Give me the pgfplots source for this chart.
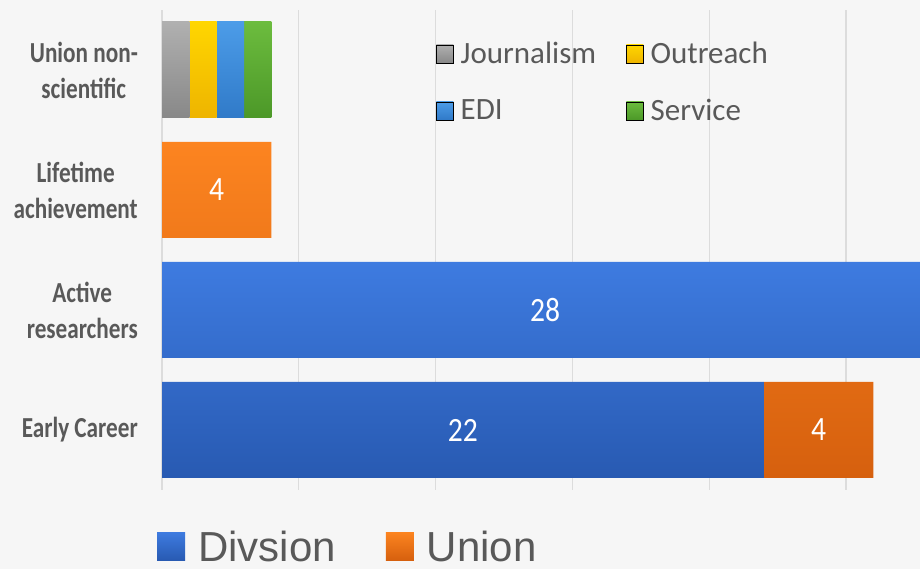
\documentclass[border=0pt]{standalone}
\usepackage{pgfplots}
\pgfplotsset{compat=1.18}
\usepackage{fontspec}
\setmainfont{Carlito}
\newfontfamily\tickfont{Carlito}[FakeStretch=0.8]
\newfontfamily\numfont{Carlito}[FakeStretch=0.87]
\newfontfamily\legfont{Liberation Sans}
\definecolor{bgc}{HTML}{F6F6F6}
\definecolor{txt}{HTML}{595959}
\definecolor{gridc}{HTML}{DCDCDC}
\definecolor{divT}{RGB}{62,123,224}
\definecolor{divB}{RGB}{40,90,178}
\definecolor{uniT}{RGB}{252,132,32}
\definecolor{uniB}{RGB}{214,96,14}
\definecolor{jouT}{RGB}{176,176,176}
\definecolor{jouB}{RGB}{136,136,136}
\definecolor{outT}{RGB}{255,214,0}
\definecolor{outB}{RGB}{238,180,0}
\definecolor{ediT}{RGB}{76,156,232}
\definecolor{ediB}{RGB}{48,122,200}
\definecolor{serT}{RGB}{108,188,62}
\definecolor{serB}{RGB}{76,152,40}
\begin{document}
\begin{tikzpicture}
\fill[bgc] (0,0) rectangle (920pt,569pt);
\begin{axis}[
  at={(162pt,79pt)}, anchor=south west,
  scale only axis, width=766pt, height=480pt,
  xbar stacked, bar width=96pt,
  xmin=0, xmax=28, ymin=-0.5, ymax=3.5,
  axis line style={draw=none},
  xtick={0,5,10,15,20,25}, xticklabels={},
  xmajorgrids, grid style={gridc, line width=1.2pt},
  major tick length=0pt,
  ytick={0,1,2,3},
  yticklabels={Early Career,{Active\\researchers},{Lifetime\\achievement},{Union non-\\scientific}},
  yticklabel style={align=center, text=txt, inner sep=0pt, xshift=-24pt,
    font=\tickfont\bfseries\fontsize{29}{36}\selectfont},
  legend image code/.code={\fill[#1] (0pt,-14pt) rectangle (28pt,14pt);},
  legend columns=2,
  legend style={draw=none, fill=none, at={(-0.0066,-0.085)}, anchor=north west,
    inner sep=0pt, text=txt, font=\legfont\fontsize{42}{42}\selectfont,
    nodes={inner sep=0pt, anchor=west, text depth=0pt},
    /tikz/every odd column/.append style={column sep=13pt},
    /tikz/column 2/.style={column sep=50pt}},
  clip=true,
]
\addplot[draw=none, top color=divT, bottom color=divB,
  nodes near coords, point meta=explicit symbolic,
  every node near coord/.style={anchor=center, text=white, font=\numfont\fontsize{34}{34}\selectfont}]
  coordinates {(22,0) [22] (28,1) [28] (0,2) [] (0,3) []};
\addplot[draw=none, top color=uniT, bottom color=uniB,
  nodes near coords, point meta=explicit symbolic,
  every node near coord/.style={anchor=center, text=white, font=\numfont\fontsize{34}{34}\selectfont}]
  coordinates {(4,0) [4] (0,1) [] (4,2) [4] (0,3) []};
\addplot[draw=none, top color=jouT, bottom color=jouB] coordinates {(0,0) (0,1) (0,2) (1,3)};
\addplot[draw=none, top color=outT, bottom color=outB] coordinates {(0,0) (0,1) (0,2) (1,3)};
\addplot[draw=none, top color=ediT, bottom color=ediB] coordinates {(0,0) (0,1) (0,2) (1,3)};
\addplot[draw=none, top color=serT, bottom color=serB] coordinates {(0,0) (0,1) (0,2) (1,3)};
\legend{Divsion, Union}
\end{axis}
\begin{axis}[
  at={(162pt,79pt)}, anchor=south west,
  scale only axis, width=758pt, height=480pt,
  xmin=0, xmax=27.66, ymin=-0.5, ymax=3.5,
  hide axis,
  legend image code/.code={\fill[#1] (0pt,-9pt) rectangle (17pt,9pt);},
  legend columns=2,
  legend style={draw=none, fill=none, at={(0.3615,0.933)}, anchor=north west,
    inner sep=0pt, text=txt, font=\fontsize{31}{31}\selectfont,
    nodes={inner sep=0pt, anchor=west},
    /tikz/every odd column/.append style={column sep=7pt},
    /tikz/column 2/.style={column sep=30pt},
    row sep=34pt},
]
\addlegendimage{top color=jouT, bottom color=jouB}
\addlegendentry{Journalism}
\addlegendimage{top color=outT, bottom color=outB}
\addlegendentry{Outreach}
\addlegendimage{top color=ediT, bottom color=ediB}
\addlegendentry{EDI}
\addlegendimage{top color=serT, bottom color=serB}
\addlegendentry{Service}
\end{axis}
\pgfresetboundingbox
\path (0,0) rectangle (920pt,569pt);
\end{tikzpicture}
\end{document}
